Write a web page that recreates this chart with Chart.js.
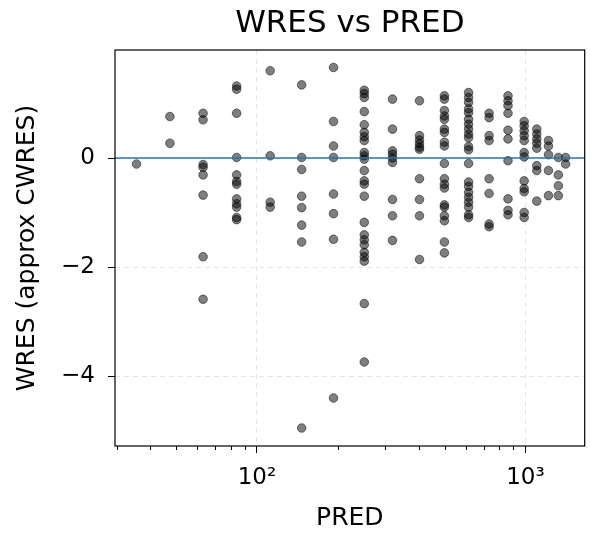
<!DOCTYPE html>
<html>
<head>
<meta charset="utf-8">
<script src="https://cdn.jsdelivr.net/npm/chart.js@4.4.1/dist/chart.umd.min.js"></script>
<style>
  html, body { margin: 0; padding: 0; background: #fff; }
  #wrap { width: 590px; height: 538px; }
</style>
</head>
<body>
<div id="wrap"><canvas id="myChart"></canvas></div>
<script>
// PRED levels (one column of points each) and the WRES values read at each level
const predLevels = [35.6, 47.4, 63.0, 84.0, 112, 146.7, 192.8, 251, 319.7, 403, 499, 614, 732, 861, 989, 1102, 1218, 1326, 1411];
const wresByLevel = [
  [-0.11],
  [0.76, 0.27],
  [0.82, 0.70, -0.12, -0.17, -0.31, -0.68, -1.81, -2.59],
  [1.32, 1.26, 0.82, 0.01, -0.31, -0.43, -0.48, -0.75, -0.84, -0.90, -1.09, -1.13],
  [1.60, 0.04, -0.81, -0.90],
  [1.34, 0.01, -0.21, -0.70, -0.91, -1.23, -1.54, -4.95],
  [1.66, 0.67, 0.22, 0.01, -0.66, -1.02, -1.49, -4.40],
  [1.24, 1.18, 1.11, 0.85, 0.61, 0.47, 0.39, 0.32, 0.10, 0.04, -0.02, -0.23, -0.42, -0.48, -0.70, -1.18, -1.41, -1.50, -1.59, -1.73, -1.81, -1.89, -2.67, -3.74],
  [1.08, 0.53, 0.13, 0.07, 0.00, -0.08, -0.76, -1.06, -1.51],
  [1.05, 0.41, 0.33, 0.26, 0.20, 0.16, -0.38, -0.76, -1.06, -1.86],
  [1.14, 1.08, 0.87, 0.77, 0.71, 0.53, 0.47, 0.29, 0.22, -0.10, -0.38, -0.48, -0.55, -0.86, -0.90, -1.06, -1.15, -1.54, -1.74],
  [1.20, 1.11, 1.02, 0.90, 0.83, 0.71, 0.62, 0.53, 0.44, 0.37, 0.21, 0.15, -0.10, -0.44, -0.52, -0.63, -0.72, -0.81, -0.90, -1.04, -1.09],
  [0.82, 0.74, 0.41, 0.32, -0.38, -0.65, -1.21, -1.26],
  [1.14, 1.05, 0.96, 0.82, 0.51, 0.35, -0.05, -0.75, -0.96, -1.04],
  [0.67, 0.59, 0.50, 0.41, 0.32, 0.10, 0.02, -0.42, -0.56, -0.62, -1.00, -1.09],
  [0.53, 0.44, 0.35, 0.27, 0.18, -0.14, -0.23, -0.79],
  [0.32, 0.22, 0.06, -0.23, -0.69],
  [0.01, -0.31, -0.51, -0.69],
  [0.01, -0.11]
];

const xMajorTicks = [100, 1000];
const xTickLabels = ["10²", "10³"];
const xMinorTicks = [30, 40, 50, 60, 70, 80, 90, 200, 300, 400, 500, 600, 700, 800, 900];
const yTicks = [-4, -2, 0];
const xRange = [29.6, 1662];
const yRange = [-5.28, 1.98];
const refLine = 0;

const points = predLevels.flatMap((p, i) => wresByLevel[i].map(w => ({ x: p, y: w })));

const FONT = "'DejaVu Sans', sans-serif";

// zero line, minor x ticks and the axes box; title centred over the plot area
const framePlugin = {
  id: "frame",
  afterLayout(chart) {
    const t = chart.titleBlock;
    if (t) {
      t.left = chart.chartArea.left;
      t.right = chart.chartArea.right;
      t.width = t.right - t.left;
    }
  },
  afterDatasetsDraw(chart) {
    const { ctx, chartArea: a, scales: { x, y } } = chart;
    ctx.save();
    const y0 = y.getPixelForValue(refLine);
    ctx.strokeStyle = "#1f77b4";
    ctx.lineWidth = 1.5;
    ctx.beginPath();
    ctx.moveTo(a.left, y0);
    ctx.lineTo(a.right, y0);
    ctx.stroke();

    ctx.strokeStyle = "#000";
    ctx.lineWidth = 1;
    xMinorTicks.forEach(v => {
      const px = Math.round(x.getPixelForValue(v)) + 0.5;
      ctx.beginPath();
      ctx.moveTo(px, a.bottom);
      ctx.lineTo(px, a.bottom + 4);
      ctx.stroke();
    });

    ctx.lineWidth = 1.2;
    ctx.strokeRect(a.left, a.top, a.right - a.left, a.bottom - a.top);
    ctx.restore();
  }
};

new Chart("myChart", {
  type: "scatter",
  data: {
    datasets: [{
      data: points,
      pointRadius: 4.3,
      pointBorderWidth: 1,
      pointBackgroundColor: "rgba(0,0,0,0.5)",
      pointBorderColor: "rgba(0,0,0,0.5)"
    }]
  },
  options: {
    responsive: true,
    maintainAspectRatio: false,
    animation: false,
    layout: { padding: { left: 0, right: 0, top: 0, bottom: 0 } },
    plugins: {
      legend: { display: false },
      tooltip: { enabled: false },
      title: {
        display: true,
        text: "WRES vs PRED",
        color: "#000",
        font: { family: FONT, size: 31, weight: "normal" },
        padding: { top: 5, bottom: 7.8 }
      }
    },
    scales: {
      x: {
        type: "logarithmic",
        min: xRange[0],
        max: xRange[1],
        afterBuildTicks: s => { s.ticks = xMajorTicks.map(v => ({ value: v })); },
        afterFit: s => { s.height = 92; },
        ticks: {
          callback: (v, i) => xTickLabels[i],
          color: "#000",
          font: { family: FONT, size: 23 },
          padding: 11,
          maxRotation: 0,
          autoSkip: false
        },
        grid: { color: "rgba(0,0,0,0.1)", tickColor: "#000", tickLength: 7, lineWidth: 1 },
        border: { display: false, dash: [5, 4] },
        title: {
          display: true,
          text: "PRED",
          color: "#000",
          font: { family: FONT, size: 25 },
          padding: { top: 0, bottom: 5 }
        }
      },
      y: {
        min: yRange[0],
        max: yRange[1],
        afterBuildTicks: s => { s.ticks = yTicks.map(v => ({ value: v })); },
        afterFit: s => { s.width = 115; },
        ticks: {
          callback: v => (v < 0 ? "\u2212" + Math.abs(v) : String(v)),
          color: "#000",
          font: { family: FONT, size: 23 },
          padding: 13
        },
        grid: { color: "rgba(0,0,0,0.1)", tickColor: "#000", tickLength: 7, lineWidth: 1 },
        border: { display: false, dash: [5, 4] },
        title: {
          display: true,
          text: "WRES (approx CWRES)",
          color: "#000",
          font: { family: FONT, size: 25 },
          padding: { top: 12, bottom: 0 }
        }
      }
    }
  },
  plugins: [framePlugin]
});
</script>
</body>
</html>
